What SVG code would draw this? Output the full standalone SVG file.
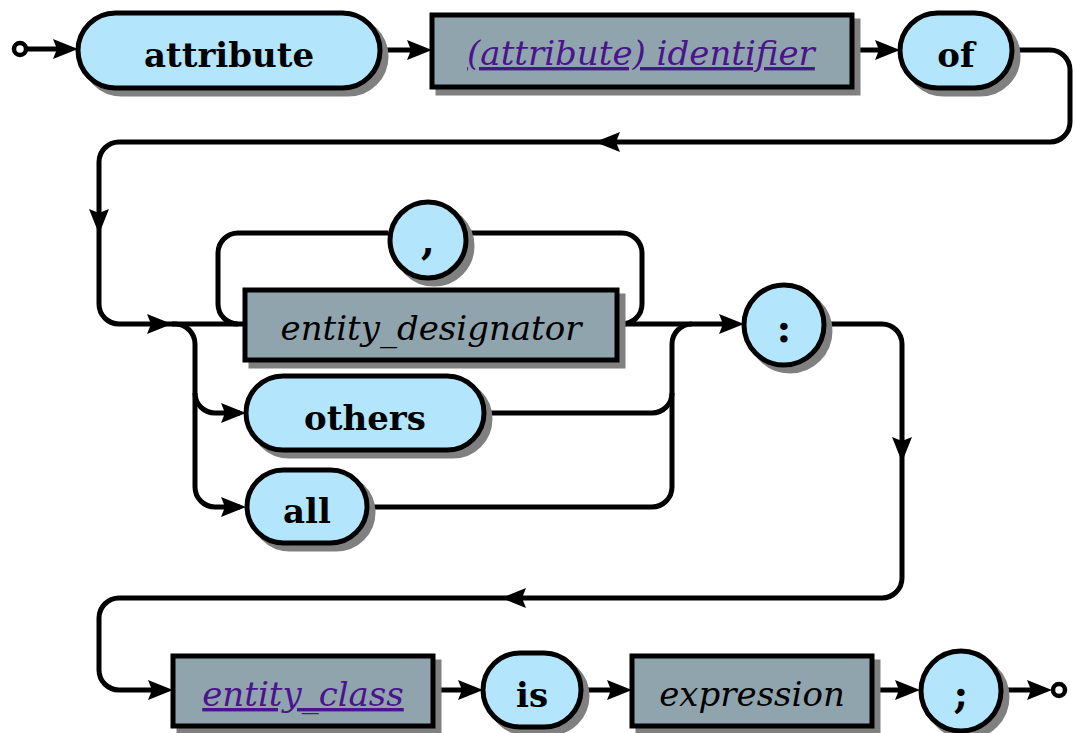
<svg xmlns="http://www.w3.org/2000/svg" xmlns:xlink="http://www.w3.org/1999/xlink" width="1075" height="733" viewBox="0 0 1075 733">
<style>
.bg{fill:#ffffff}
.line{fill:none;stroke:#000;stroke-width:5}
.sh{fill:#808080;stroke:#808080;stroke-width:5}
.term{fill:#b3e5fc;stroke:#000;stroke-width:5}
.nt{fill:#90a4ae;stroke:#000;stroke-width:5}
.tt{font-family:"DejaVu Serif","Liberation Serif",serif;font-weight:bold;font-size:34px;fill:#000;text-anchor:middle}
.pp{font-size:40px}
.nn{font-family:"DejaVu Serif","Liberation Serif",serif;font-style:italic;font-size:34px;fill:#000;text-anchor:middle}
.lk{fill:#4a148c;text-decoration:underline}
.end{fill:#fff;stroke:#000;stroke-width:4.5}
</style>
<defs>
<path id="ah" d="M0,0 L-25,-10 L-21,0 L-25,10 Z" fill="#000"/>
</defs>
<rect class="bg" x="0" y="0" width="1075" height="733"/>
<g id="connectors">
<circle class="end" cx="20" cy="49" r="6"/>
<path class="line" d="M26,49 H70"/>
<use xlink:href="#ah" transform="translate(78,49)"/>
<path class="line" d="M380,50 H424"/>
<use xlink:href="#ah" transform="translate(432,50)"/>
<path class="line" d="M852,50 H892"/>
<use xlink:href="#ah" transform="translate(900,50)"/>
<path class="line" d="M1012,50 H1050 A20,20 0 0 1 1070,70 V122 A20,20 0 0 1 1050,142 H119 A20,20 0 0 0 99,162 V304 A20,20 0 0 0 119,324 H245"/>
<use xlink:href="#ah" transform="translate(595,142) rotate(180)"/>
<use xlink:href="#ah" transform="translate(99,234) rotate(90)"/>
<use xlink:href="#ah" transform="translate(172,324)"/>
<path class="line" d="M617,324 H622 A20,20 0 0 0 642,304 V253 A20,20 0 0 0 622,233 H470"/>
<path class="line" d="M388,233 H238 A20,20 0 0 0 218,253 V304 A20,20 0 0 0 238,324"/>
<path class="line" d="M172,324 H175 A20,20 0 0 1 195,344 V393 A20,20 0 0 0 215,413 H240"/>
<path class="line" d="M195,393 V487 A20,20 0 0 0 215,507 H240"/>
<use xlink:href="#ah" transform="translate(246,413)"/>
<use xlink:href="#ah" transform="translate(246,507)"/>
<path class="line" d="M485,413 H652 A20,20 0 0 0 672,393 V344 A20,20 0 0 1 692,324"/>
<path class="line" d="M367,507 H652 A20,20 0 0 0 672,487 V393"/>
<path class="line" d="M617,324 H736"/>
<use xlink:href="#ah" transform="translate(744,324)"/>
<path class="line" d="M825,324 H882 A20,20 0 0 1 902,344 V578 A20,20 0 0 1 882,598 H119 A20,20 0 0 0 99,618 V670 A20,20 0 0 0 119,690 H166"/>
<use xlink:href="#ah" transform="translate(902,462) rotate(90)"/>
<use xlink:href="#ah" transform="translate(501,598) rotate(180)"/>
<use xlink:href="#ah" transform="translate(173,690)"/>
<path class="line" d="M433,690 H476"/>
<use xlink:href="#ah" transform="translate(483,690)"/>
<path class="line" d="M580,690 H624"/>
<use xlink:href="#ah" transform="translate(632,690)"/>
<path class="line" d="M871,690 H912"/>
<use xlink:href="#ah" transform="translate(920,690)"/>
<path class="line" d="M1002,690 H1044"/>
<use xlink:href="#ah" transform="translate(1052,690)"/>
<circle class="end" cx="1059" cy="690" r="6"/>
</g>
<g id="n-attribute">
<rect class="sh" x="84" y="19" width="302" height="75" rx="37.5"/>
<rect class="term" x="78" y="13" width="302" height="75" rx="37.5"/>
<text class="tt" x="229" y="67">attribute</text>
</g>
<g id="n-identifier">
<rect class="sh" x="438" y="21" width="420" height="72"/>
<rect class="nt" x="432" y="15" width="420" height="72"/>
<text class="nn lk" x="641" y="65">(attribute) identifier</text>
</g>
<g id="n-of">
<rect class="sh" x="906" y="19" width="112" height="75" rx="37.5"/>
<rect class="term" x="900" y="13" width="112" height="75" rx="37.5"/>
<text class="tt" x="956" y="67">of</text>
</g>
<g id="n-comma">
<circle class="sh" cx="434" cy="246" r="38"/>
<circle class="term" cx="428" cy="240" r="38"/>
<text class="tt pp" x="428" y="254">,</text>
</g>
<g id="n-entity-designator">
<rect class="sh" x="251" y="296" width="372" height="70"/>
<rect class="nt" x="245" y="290" width="372" height="70"/>
<text class="nn" x="431" y="340">entity_designator</text>
</g>
<g id="n-others">
<rect class="sh" x="252" y="382" width="238" height="74" rx="37"/>
<rect class="term" x="246" y="376" width="238" height="74" rx="37"/>
<text class="tt" x="365" y="430">others</text>
</g>
<g id="n-all">
<rect class="sh" x="253" y="476" width="120" height="73" rx="36.5"/>
<rect class="term" x="247" y="470" width="120" height="73" rx="36.5"/>
<text class="tt" x="307" y="523">all</text>
</g>
<g id="n-colon">
<circle class="sh" cx="790" cy="331" r="40"/>
<circle class="term" cx="784" cy="325" r="40"/>
<text class="tt pp" x="784" y="342">:</text>
</g>
<g id="n-entity-class">
<rect class="sh" x="179" y="662" width="260" height="70"/>
<rect class="nt" x="173" y="656" width="260" height="70"/>
<text class="nn lk" x="303" y="706">entity_class</text>
</g>
<g id="n-is">
<rect class="sh" x="489" y="659" width="98" height="74" rx="37"/>
<rect class="term" x="483" y="653" width="98" height="74" rx="37"/>
<text class="tt" x="532" y="707">is</text>
</g>
<g id="n-expression">
<rect class="sh" x="638" y="662" width="240" height="70"/>
<rect class="nt" x="632" y="656" width="240" height="70"/>
<text class="nn" x="752" y="706">expression</text>
</g>
<g id="n-semicolon">
<circle class="sh" cx="967" cy="697" r="40"/>
<circle class="term" cx="961" cy="691" r="40"/>
<text class="tt pp" x="961" y="708">;</text>
</g>
</svg>
